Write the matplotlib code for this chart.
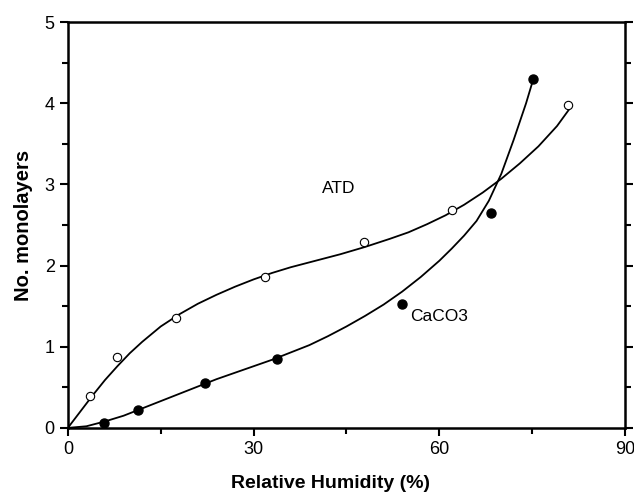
import matplotlib
matplotlib.use("Agg")
import matplotlib.pyplot as plt
from matplotlib.ticker import MultipleLocator

plt.rcParams['font.family'] = ['Liberation Sans', 'DejaVu Sans']

# measured points
atd_x = [3.5, 8.0, 17.4, 31.8, 47.8, 62.1, 80.8]
atd_y = [0.39, 0.87, 1.36, 1.86, 2.29, 2.69, 3.98]
caco3_x = [5.9, 11.4, 22.1, 33.8, 54.0, 68.4, 75.1]
caco3_y = [0.06, 0.22, 0.55, 0.85, 1.53, 2.65, 4.30]

# fitted curves
atd_fit_x = [0, 2, 4, 6, 8, 10, 12, 15, 18, 21, 24, 27, 30, 33, 36, 40, 44, 48,
             52, 55, 58, 61, 64, 67, 70, 73, 76, 79, 81]
atd_fit_y = [0, 0.2, 0.4, 0.59, 0.76, 0.92, 1.06, 1.25, 1.40, 1.53, 1.64, 1.74,
             1.83, 1.91, 1.98, 2.06, 2.14, 2.23, 2.33, 2.41, 2.51, 2.62, 2.75,
             2.90, 3.07, 3.26, 3.47, 3.72, 3.93]
caco3_fit_x = [0, 3, 6, 9, 12, 15, 18, 21, 24, 27, 30, 33, 36, 39, 42, 45, 48,
               51, 54, 57, 60, 62, 64, 66, 68, 70, 72, 74, 75.1]
caco3_fit_y = [0, 0.02, 0.08, 0.15, 0.24, 0.33, 0.42, 0.51, 0.60, 0.68, 0.76,
               0.84, 0.93, 1.02, 1.13, 1.25, 1.38, 1.52, 1.68, 1.86, 2.06, 2.21,
               2.37, 2.55, 2.80, 3.13, 3.55, 4.00, 4.28]

fig = plt.figure(figsize=(6.34, 5.04), dpi=100)
ax = fig.add_axes([0.107, 0.151, 0.879, 0.805])

ax.plot(atd_fit_x, atd_fit_y, color='black', lw=1.3)
ax.plot(caco3_fit_x, caco3_fit_y, color='black', lw=1.3)
ax.plot(atd_x, atd_y, 'o', mfc='white', mec='black', ms=6, mew=0.8)
ax.plot(caco3_x, caco3_y, 'o', mfc='black', mec='black', ms=6.5)

ax.text(41.0, 2.95, 'ATD', fontsize=12.5, va='center')
ax.text(55.3, 1.37, 'CaCO3', fontsize=12.5, va='center')

ax.set_xlim(0, 90)
ax.set_ylim(0, 5)
ax.xaxis.set_major_locator(MultipleLocator(30))
ax.xaxis.set_minor_locator(MultipleLocator(15))
ax.yaxis.set_major_locator(MultipleLocator(1))
ax.yaxis.set_minor_locator(MultipleLocator(0.5))
ax.tick_params(which='both', direction='out', width=1.5, labelsize=13, top=False)
ax.tick_params(which='major', length=6)
ax.tick_params(which='minor', length=4)
ax.tick_params(axis='y', which='both', right=True, labelright=False)
for s in ax.spines.values():
    s.set_linewidth(1.8)

ax.set_xlabel('Relative Humidity (%)', fontsize=14, fontweight='bold')
ax.xaxis.set_label_coords(0.472, -0.115)
ax.set_ylabel('No. monolayers', fontsize=14.5, fontweight='bold', labelpad=8)

fig.savefig('out.png', dpi=100)
